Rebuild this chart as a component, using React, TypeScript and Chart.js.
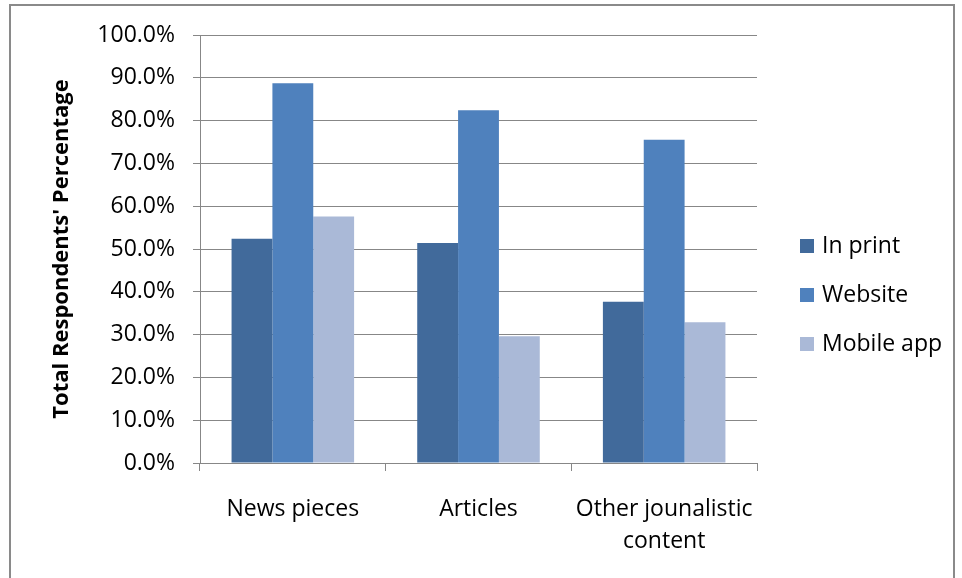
import React, { useEffect, useRef } from "react";
import { Chart, registerables } from "chart.js";

Chart.register(...registerables);

const categories: (string | string[])[] = ["News pieces", "Articles", ["Other jounalistic", "content"]];
const inPrint = [52.4, 51.4, 37.7];
const website = [88.7, 82.4, 75.5];
const mobileApp = [57.6, 29.6, 32.9];
const seriesNames = ["In print", "Website", "Mobile app"];
const colors = ["#416A9B", "#4F81BD", "#AAB9D7"];

const FONT = "'Open Sans', Lato, sans-serif";
const FS = 23;

const legendPlugin = {
  id: "customLegend",
  afterDraw(chart: any) {
    const ctx = chart.ctx;
    ctx.save();
    const ds = chart.data.datasets;
    const centerY = 295;
    const spacing = 49;
    ds.forEach((d: any, i: number) => {
      const cy = centerY + (i - (ds.length - 1) / 2) * spacing;
      ctx.fillStyle = d.backgroundColor;
      ctx.fillRect(800, cy - 7, 14, 14);
      ctx.fillStyle = "#000";
      ctx.font = `${FS}px ${FONT}`;
      ctx.textBaseline = "middle";
      ctx.textAlign = "left";
      ctx.fillText(d.label, 822, cy);
    });
    ctx.restore();
  },
};

export default function App() {
  const ref = useRef<HTMLCanvasElement | null>(null);
  useEffect(() => {
    if (!ref.current) return;
    const chart = new Chart(ref.current, {
      type: "bar",
      data: {
        labels: categories,
        datasets: [inPrint, website, mobileApp].map((d, i) => ({
          label: seriesNames[i],
          data: d,
          backgroundColor: colors[i],
          borderWidth: 0,
          categoryPercentage: 0.66,
          barPercentage: 1,
        })),
      },
      plugins: [legendPlugin],
      options: {
        animation: false,
        responsive: false,
        maintainAspectRatio: false,
        layout: { padding: { top: 35, right: 205, bottom: 0, left: 49 } },
        plugins: {
          tooltip: { enabled: false },
          legend: { display: false },
        },
        scales: {
          x: {
            grid: {
              offset: true,
              drawOnChartArea: false,
              drawTicks: true,
              tickLength: 8,
              color: "#878787",
            },
            border: { color: "#878787", width: 1 },
            ticks: {
              color: "#000",
              padding: 22,
              font: { family: FONT, size: FS, lineHeight: 32 / FS },
              maxRotation: 0,
            },
            afterFit: (s: any) => {
              s.height = 115;
            },
          },
          y: {
            min: 0,
            max: 100,
            ticks: {
              stepSize: 10,
              color: "#000",
              padding: 18,
              font: { family: FONT, size: FS },
              callback: (v: any) => Number(v).toFixed(1) + "%",
            },
            grid: { color: "#878787", tickLength: 7 },
            border: { color: "#878787", width: 1 },
            title: {
              display: true,
              text: "Total Respondents' Percentage",
              color: "#000",
              font: { family: FONT, size: 22, weight: "bold", lineHeight: 1.2 },
              padding: { top: 0, bottom: 0 },
            },
            afterFit: (s: any) => {
              s.width = 151;
            },
          },
        },
      },
    });
    return () => chart.destroy();
  }, []);
  return (
    <div style={{ position: "fixed", left: 0, top: 0, width: 962, height: 578, background: "#fff" }}>
      <div
        style={{
          position: "absolute",
          left: 9,
          top: 4,
          width: 946,
          height: 590,
          border: "2px solid #8a8a8a",
          boxSizing: "border-box",
        }}
      />
      <canvas ref={ref} width={962} height={578} style={{ position: "absolute", left: 0, top: 0 }} />
    </div>
  );
}
